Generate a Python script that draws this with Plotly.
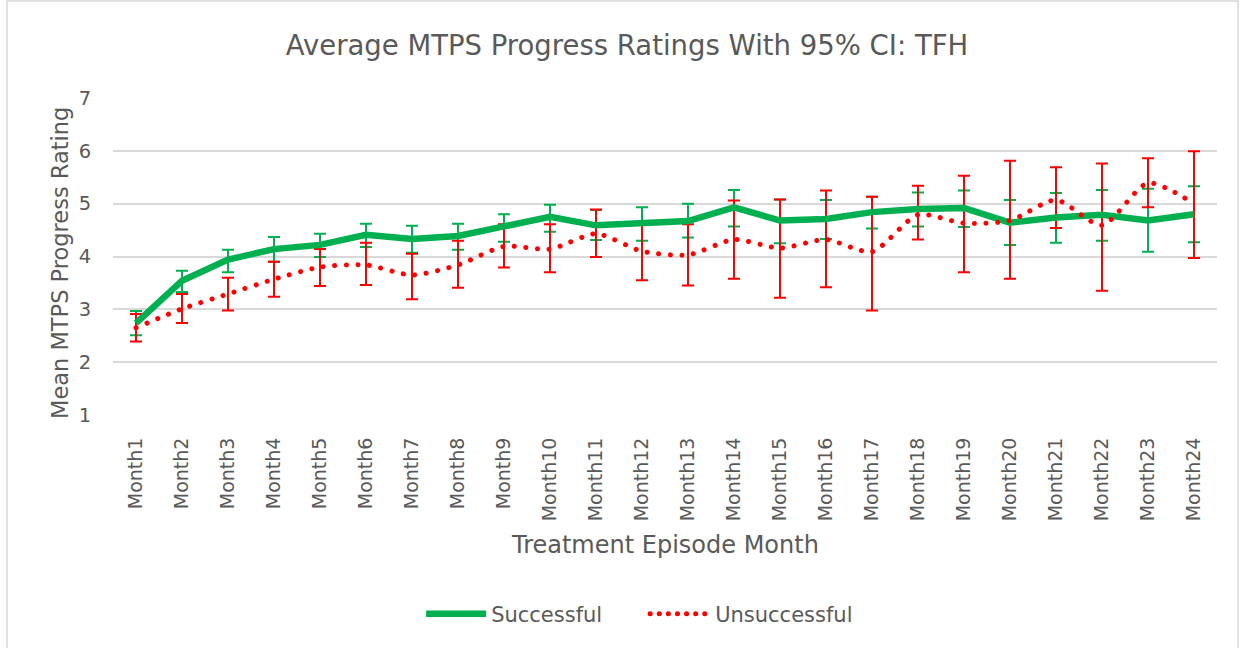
import plotly.graph_objects as go

months = ["Month%d" % i for i in range(1, 25)]

succ_mean = [2.74, 3.54, 3.94, 4.14, 4.22, 4.41, 4.33, 4.39, 4.57, 4.75, 4.59, 4.62,
             4.67, 4.93, 4.68, 4.71, 4.84, 4.90, 4.92, 4.64, 4.74, 4.79, 4.68, 4.80]
succ_upper = [2.97, 3.73, 4.13, 4.37, 4.43, 4.62, 4.58, 4.62, 4.80, 4.98, 4.88, 4.93,
              5.00, 5.26, 5.08, 5.07, 5.13, 5.21, 5.25, 5.07, 5.20, 5.26, 5.28, 5.33]
succ_lower = [2.51, 3.33, 3.70, 3.90, 3.99, 4.18, 4.07, 4.13, 4.28, 4.47, 4.31, 4.30,
              4.36, 4.57, 4.25, 4.33, 4.53, 4.57, 4.56, 4.22, 4.26, 4.30, 4.09, 4.27]

unsucc_mean = [2.65, 3.01, 3.29, 3.57, 3.80, 3.84, 3.65, 3.84, 4.19, 4.14, 4.43, 4.10,
               4.03, 4.32, 4.16, 4.32, 4.09, 4.79, 4.63, 4.68, 5.07, 4.59, 5.39, 5.00]
unsucc_upper = [2.91, 3.29, 3.60, 3.90, 4.14, 4.26, 4.05, 4.30, 4.61, 4.61, 4.89, 4.60,
                4.61, 5.06, 5.08, 5.25, 5.13, 5.34, 5.53, 5.81, 5.69, 5.76, 5.86, 5.99]
unsucc_lower = [2.39, 2.74, 2.98, 3.24, 3.44, 3.46, 3.19, 3.41, 3.79, 3.70, 3.99, 3.55,
                3.45, 3.58, 3.22, 3.42, 2.98, 4.32, 3.70, 3.58, 4.54, 3.35, 4.93, 3.97]

GREEN = "#00B050"
RED = "#FF0000"
TXT = "#595959"
GRID = "#D9D9D9"
FONT = "DejaVu Sans"

def err(mean, up, lo):
    return ([u - m for m, u in zip(mean, up)], [m - l for m, l in zip(mean, lo)])

su, sd = err(succ_mean, succ_upper, succ_lower)
uu, ud = err(unsucc_mean, unsucc_upper, unsucc_lower)

fig = go.Figure()
# error bars (drawn below the lines)
fig.add_trace(go.Scatter(
    x=months, y=succ_mean, mode="markers", showlegend=False, hoverinfo="skip",
    marker=dict(size=1, color="rgba(0,0,0,0)"),
    error_y=dict(type="data", array=su, arrayminus=sd, color=GREEN, thickness=2, width=6)))
fig.add_trace(go.Scatter(
    x=months, y=unsucc_mean, mode="markers", showlegend=False, hoverinfo="skip",
    marker=dict(size=1, color="rgba(0,0,0,0)"),
    error_y=dict(type="data", array=uu, arrayminus=ud, color=RED, thickness=2, width=6)))
# lines
fig.add_trace(go.Scatter(
    x=months, y=succ_mean, mode="lines", name="Successful",
    line=dict(color=GREEN, width=6.5)))
fig.add_trace(go.Scatter(
    x=months, y=unsucc_mean, mode="lines", name="Unsuccessful",
    line=dict(color=RED, width=5, dash="5px,6.5px", shape="spline", smoothing=0.7)))

fig.update_layout(
    width=1244, height=648,
    margin=dict(l=113, r=27, t=98, b=233),
    paper_bgcolor="white", plot_bgcolor="white",
    font=dict(family=FONT, color=TXT, size=19),
    title=dict(text="Average MTPS Progress Ratings With 95% CI: TFH",
               x=0.504, xanchor="center", y=1 - 45 / 648, yanchor="middle",
               font=dict(size=27.5, color=TXT, family=FONT)),
    legend=dict(orientation="h", x=0.482, xanchor="center", y=-0.628, yanchor="middle",
                font=dict(size=21, color=TXT, family=FONT), itemwidth=60,
                entrywidth=149, bgcolor="rgba(0,0,0,0)"),
    showlegend=True,
    xaxis=dict(type="category", range=[-0.5, 23.5], tickangle=-90,
               showgrid=False, showline=False, zeroline=False, automargin=False,
               ticks="outside", ticklen=14, tickcolor="rgba(0,0,0,0)",
               tickfont=dict(size=19, color=TXT, family=FONT)),
    yaxis=dict(range=[1, 7], dtick=1, tick0=1, showgrid=True, gridcolor=GRID, gridwidth=1.5,
               zeroline=False, showline=False, automargin=False,
               ticks="outside", ticklen=17, tickcolor="rgba(0,0,0,0)",
               tickfont=dict(size=19.5, color=TXT, family=FONT)),
    annotations=[
        dict(text="Treatment Episode Month", xref="paper", yref="paper",
             x=0.5, y=(415 - 545) / 317, xanchor="center", yanchor="middle",
             showarrow=False, font=dict(size=24, color=TXT, family=FONT)),
        dict(text="Mean MTPS Progress Rating", xref="paper", yref="paper",
             x=(60 - 113) / 1104, y=(415 - 263) / 317, xanchor="center", yanchor="middle",
             textangle=-90, showarrow=False, font=dict(size=22.5, color=TXT, family=FONT)),
    ],
    shapes=[dict(type="rect", xref="paper", yref="paper",
                 x0=(7 - 113) / 1104, x1=(1238 - 113) / 1104,
                 y0=(415 - 660) / 317, y1=(415 - 1) / 317,
                 line=dict(color=GRID, width=1.5), fillcolor="rgba(0,0,0,0)", layer="below")],
)

post = """
document.body.style.margin = '0px';
var gd = document.getElementById('{plot_id}');
function roundDots() {
  var traces = gd.querySelectorAll('.scatterlayer .trace');
  if (traces.length > 3) {
    var p = traces[3].querySelector('path.js-line');
    if (p) { p.style.strokeLinecap = 'round'; p.style.strokeDasharray = '0.1px,11.5px'; }
  }
  var leg = gd.querySelectorAll('.legend .traces');
  if (leg.length > 1) {
    var q = leg[1].querySelector('path.js-line');
    if (q) { q.style.strokeLinecap = 'round'; q.style.strokeDasharray = '0.1px,9px'; }
  }
}
roundDots();
"""

fig.write_html("out.html", post_script=post, config={"displayModeBar": False})
